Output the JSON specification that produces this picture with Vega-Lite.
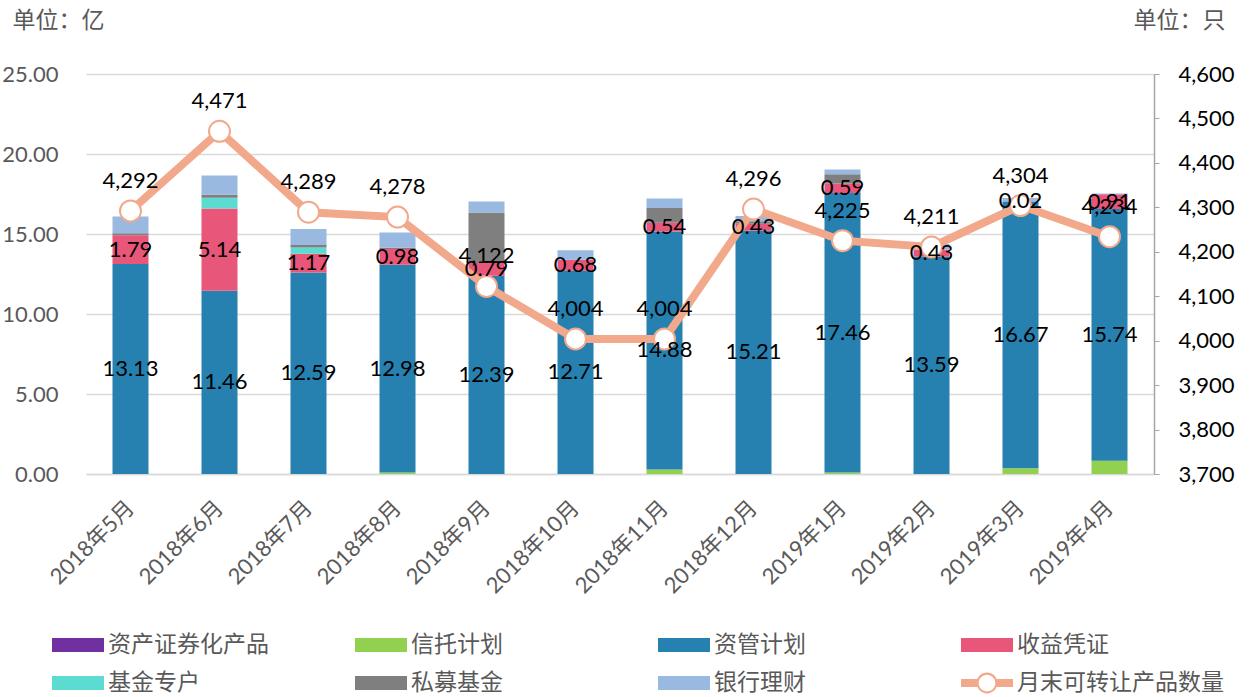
{
  "$schema": "https://vega.github.io/schema/vega-lite/v6.json",
  "width": 1068,
  "height": 400,
  "autosize": {"type": "none"},
  "padding": {"left": 86, "top": 74, "right": 103, "bottom": 223},
  "background": "white",
  "config": {
    "font": "Lato, 'Noto Sans CJK SC'",
    "view": {"stroke": null},
    "axis": {"labelFont": "Lato, 'Noto Sans CJK SC'", "titleFont": "Lato, 'Noto Sans CJK SC'"},
    "legend": {"labelFont": "Lato, 'Noto Sans CJK SC'"}
  },
  "datasets": {
    "types": [
      {"type": "资产证券化产品", "k": 0},
      {"type": "信托计划", "k": 1},
      {"type": "资管计划", "k": 2},
      {"type": "收益凭证", "k": 3},
      {"type": "基金专户", "k": 4},
      {"type": "私募基金", "k": 5},
      {"type": "银行理财", "k": 6}
    ],
    "bars": [
      {"month": "2018年5月", "type": "资管计划", "value": 13.13},
      {"month": "2018年5月", "type": "收益凭证", "value": 1.79},
      {"month": "2018年5月", "type": "私募基金", "value": 0.12},
      {"month": "2018年5月", "type": "银行理财", "value": 1.05},
      {"month": "2018年6月", "type": "资管计划", "value": 11.46},
      {"month": "2018年6月", "type": "收益凭证", "value": 5.14},
      {"month": "2018年6月", "type": "基金专户", "value": 0.66},
      {"month": "2018年6月", "type": "私募基金", "value": 0.2},
      {"month": "2018年6月", "type": "银行理财", "value": 1.2},
      {"month": "2018年7月", "type": "资管计划", "value": 12.59},
      {"month": "2018年7月", "type": "收益凭证", "value": 1.17},
      {"month": "2018年7月", "type": "基金专户", "value": 0.4},
      {"month": "2018年7月", "type": "私募基金", "value": 0.15},
      {"month": "2018年7月", "type": "银行理财", "value": 1.0},
      {"month": "2018年8月", "type": "信托计划", "value": 0.1},
      {"month": "2018年8月", "type": "资管计划", "value": 12.98},
      {"month": "2018年8月", "type": "收益凭证", "value": 0.98},
      {"month": "2018年8月", "type": "私募基金", "value": 0.08},
      {"month": "2018年8月", "type": "银行理财", "value": 0.95},
      {"month": "2018年9月", "type": "资管计划", "value": 12.39},
      {"month": "2018年9月", "type": "收益凭证", "value": 0.79},
      {"month": "2018年9月", "type": "私募基金", "value": 3.16},
      {"month": "2018年9月", "type": "银行理财", "value": 0.69},
      {"month": "2018年10月", "type": "资管计划", "value": 12.71},
      {"month": "2018年10月", "type": "收益凭证", "value": 0.68},
      {"month": "2018年10月", "type": "银行理财", "value": 0.6},
      {"month": "2018年11月", "type": "信托计划", "value": 0.28},
      {"month": "2018年11月", "type": "资管计划", "value": 14.88},
      {"month": "2018年11月", "type": "收益凭证", "value": 0.54},
      {"month": "2018年11月", "type": "私募基金", "value": 0.92},
      {"month": "2018年11月", "type": "银行理财", "value": 0.6},
      {"month": "2018年12月", "type": "资管计划", "value": 15.21},
      {"month": "2018年12月", "type": "收益凭证", "value": 0.43},
      {"month": "2018年12月", "type": "私募基金", "value": 0.15},
      {"month": "2018年12月", "type": "银行理财", "value": 0.33},
      {"month": "2019年1月", "type": "信托计划", "value": 0.1},
      {"month": "2019年1月", "type": "资管计划", "value": 17.46},
      {"month": "2019年1月", "type": "收益凭证", "value": 0.59},
      {"month": "2019年1月", "type": "私募基金", "value": 0.58},
      {"month": "2019年1月", "type": "银行理财", "value": 0.3},
      {"month": "2019年2月", "type": "资管计划", "value": 13.59},
      {"month": "2019年2月", "type": "收益凭证", "value": 0.43},
      {"month": "2019年2月", "type": "银行理财", "value": 0.35},
      {"month": "2019年3月", "type": "信托计划", "value": 0.36},
      {"month": "2019年3月", "type": "资管计划", "value": 16.67},
      {"month": "2019年3月", "type": "收益凭证", "value": 0.02},
      {"month": "2019年3月", "type": "银行理财", "value": 0.2},
      {"month": "2019年4月", "type": "信托计划", "value": 0.83},
      {"month": "2019年4月", "type": "资管计划", "value": 15.74},
      {"month": "2019年4月", "type": "收益凭证", "value": 0.91},
      {"month": "2019年4月", "type": "银行理财", "value": 0.05}
    ],
    "line": [
      {"month": "2018年5月", "type": "月末可转让产品数量", "count": 4292},
      {"month": "2018年6月", "type": "月末可转让产品数量", "count": 4471},
      {"month": "2018年7月", "type": "月末可转让产品数量", "count": 4289},
      {"month": "2018年8月", "type": "月末可转让产品数量", "count": 4278},
      {"month": "2018年9月", "type": "月末可转让产品数量", "count": 4122},
      {"month": "2018年10月", "type": "月末可转让产品数量", "count": 4004},
      {"month": "2018年11月", "type": "月末可转让产品数量", "count": 4004},
      {"month": "2018年12月", "type": "月末可转让产品数量", "count": 4296},
      {"month": "2019年1月", "type": "月末可转让产品数量", "count": 4225},
      {"month": "2019年2月", "type": "月末可转让产品数量", "count": 4211},
      {"month": "2019年3月", "type": "月末可转让产品数量", "count": 4304},
      {"month": "2019年4月", "type": "月末可转让产品数量", "count": 4234}
    ]
  },
  "encoding": {
    "x": {
      "field": "month",
      "type": "nominal",
      "sort": ["2018年5月", "2018年6月", "2018年7月", "2018年8月", "2018年9月", "2018年10月", "2018年11月", "2018年12月", "2019年1月", "2019年2月", "2019年3月", "2019年4月"],
      "scale": {"paddingInner": 0.1, "paddingOuter": 0.05},
      "axis": {
        "title": null,
        "labelAngle": -45,
        "labelAlign": "right",
        "labelBaseline": "middle",
        "labelPadding": 30,
        "labelFontSize": 22,
        "labelColor": "#595959",
        "ticks": false,
        "tickSize": 0,
        "domainColor": "#d9d9d9",
        "domainWidth": 1.5,
        "grid": false
      }
    }
  },
  "layer": [
    {
      "data": {"name": "bars"},
      "transform": [
        {"lookup": "type", "from": {"data": {"name": "types"}, "key": "type", "fields": ["k"]}},
        {"stack": "value", "groupby": ["month"], "sort": [{"field": "k", "order": "ascending"}], "as": ["v0", "v1"]}
      ],
      "mark": {"type": "bar", "width": 36},
      "encoding": {
        "y": {
          "field": "v0",
          "type": "quantitative",
          "scale": {"domain": [0, 25], "nice": false},
          "axis": {
            "orient": "left",
            "values": [0, 5, 10, 15, 20, 25],
            "format": ".2f",
            "labelFontSize": 22,
            "labelColor": "#595959",
            "labelPadding": 28,
            "ticks": false,
            "tickSize": 0,
            "domain": false,
            "grid": true,
            "gridColor": "#d9d9d9",
            "gridWidth": 1.5,
            "title": "单位：亿",
            "titleAngle": 0,
            "titleX": -74,
            "titleY": -54,
            "titleAlign": "left",
            "titleBaseline": "middle",
            "titleFontSize": 23,
            "titleFontWeight": "normal",
            "titleColor": "#595959"
          }
        },
        "y2": {"field": "v1"},
        "color": {
          "field": "type",
          "type": "nominal",
          "scale": {
            "domain": ["资产证券化产品", "信托计划", "资管计划", "收益凭证", "基金专户", "私募基金", "银行理财", "月末可转让产品数量"],
            "range": ["#7030A0", "#92D050", "#2781B0", "#E8567A", "#5CDBD0", "#7F7F7F", "#99B9E0", "#F2A88A"]
          },
          "legend": {
            "title": null,
            "orient": "none",
            "direction": "horizontal",
            "legendX": -34,
            "legendY": 545,
            "columns": 4,
            "gridAlign": "all",
            "columnPadding": 40,
            "rowPadding": -10,
            "padding": 0,
            "symbolType": "M-1,-0.27H1V0.27H-1Z",
            "symbolSize": 2704,
            "symbolStrokeWidth": 0,
            "labelFontSize": 23,
            "labelColor": "#595959",
            "labelLimit": 400,
            "labelOffset": 4,
            "encode": {
              "symbols": {
                "update": {
                  "shape": {"signal": "datum.label === '月末可转让产品数量' ? 'M-1,-0.15H-0.38V0.15H-1Z M0.38,-0.15H1V0.15H0.38Z M0.4,0A0.4,0.4 0 1,1 -0.4,0A0.4,0.4 0 1,1 0.4,0Z M0.32,0A0.32,0.32 0 1,0 -0.32,0A0.32,0.32 0 1,0 0.32,0Z' : 'M-1,-0.27H1V0.27H-1Z'"},
                  "fill": {"signal": "datum.label === '月末可转让产品数量' ? '#F2A88A' : scale('color', datum.value)"},
                  "strokeWidth": {"value": 0},
                  "opacity": {"value": 1},
                  "fillOpacity": {"value": 1}
                }
              }
            }
          }
        }
      }
    },
    {
      "data": {"name": "line"},
      "mark": {"type": "line", "strokeWidth": 8},
      "encoding": {
        "y": {
          "field": "count",
          "type": "quantitative",
          "scale": {"domain": [3700, 4600], "nice": false},
          "axis": {
            "orient": "right",
            "values": [3700, 3800, 3900, 4000, 4100, 4200, 4300, 4400, 4500, 4600],
            "format": ",d",
            "labelFontSize": 22,
            "labelColor": "#000000",
            "labelPadding": 19,
            "ticks": true,
            "tickSize": 5,
            "tickColor": "#a6a6a6",
            "domain": true,
            "domainColor": "#a6a6a6",
            "domainWidth": 1.5,
            "grid": false,
            "title": "单位：只",
            "titleAngle": 0,
            "titleX": -21,
            "titleY": -54,
            "titleAlign": "left",
            "titleBaseline": "middle",
            "titleFontSize": 23,
            "titleFontWeight": "normal",
            "titleColor": "#595959"
          }
        },
        "color": {"field": "type", "type": "nominal"}
      }
    },
    {
      "data": {"name": "line"},
      "mark": {"type": "point", "filled": true, "fill": "#ffffff", "stroke": "#F2A88A", "strokeWidth": 2, "size": 440, "opacity": 1},
      "encoding": {
        "y": {"field": "count", "type": "quantitative", "scale": {"domain": [3700, 4600], "nice": false}, "axis": null}
      }
    },
    {
      "data": {"name": "line"},
      "mark": {"type": "text", "dy": -30, "fontSize": 22, "color": "#000000"},
      "encoding": {
        "y": {"field": "count", "type": "quantitative", "scale": {"domain": [3700, 4600], "nice": false}, "axis": null},
        "text": {"field": "count", "type": "quantitative", "format": ",d"}
      }
    },
    {
      "data": {"name": "bars"},
      "transform": [
        {"lookup": "type", "from": {"data": {"name": "types"}, "key": "type", "fields": ["k"]}},
        {"stack": "value", "groupby": ["month"], "sort": [{"field": "k", "order": "ascending"}], "as": ["v0", "v1"]},
        {"calculate": "(datum.v0 + datum.v1) / 2", "as": "mid"},
        {"filter": "datum.type === '资管计划' || datum.type === '收益凭证'"}
      ],
      "mark": {"type": "text", "fontSize": 22, "color": "#000000"},
      "encoding": {
        "y": {"field": "mid", "type": "quantitative", "scale": {"domain": [0, 25], "nice": false}, "axis": null},
        "text": {"field": "value", "type": "quantitative", "format": ".2f"}
      }
    }
  ],
  "resolve": {"scale": {"y": "independent"}}
}
